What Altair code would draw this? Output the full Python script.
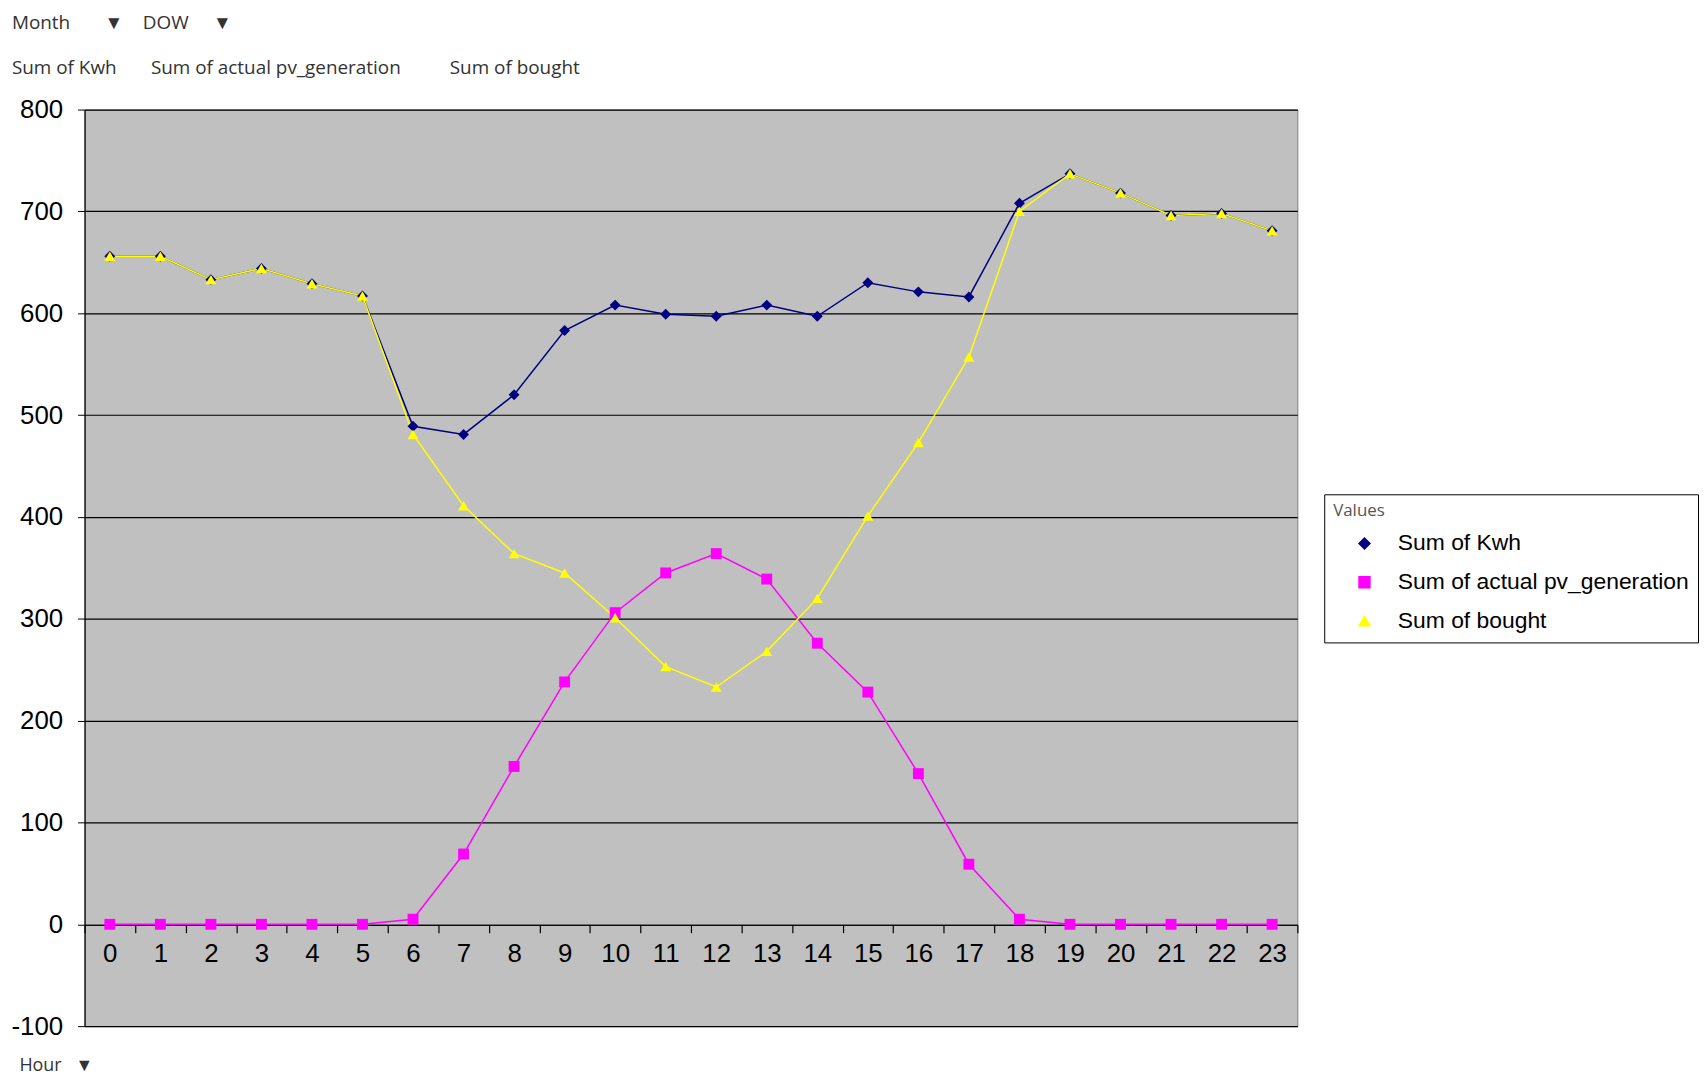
import altair as alt
import pandas as pd

hours = list(range(24))
kwh = [656, 656, 633, 644, 629, 617, 489, 481, 520, 583, 608, 599,
       597, 608, 597, 630, 621, 616, 708, 737, 718, 696, 698, 681]
pv = [0, 0, 0, 0, 0, 0, 5, 69, 155, 238, 306, 345,
      364, 339, 276, 228, 148, 59, 5, 0, 0, 0, 0, 0]
bought = [656, 656, 633, 644, 629, 617, 481, 411, 364, 345, 301, 253,
          233, 268, 320, 401, 473, 557, 700, 737, 718, 696, 698, 681]

series_names = ["Sum of Kwh", "Sum of actual pv_generation", "Sum of bought"]
series_colors = ["#000080", "#FF00FF", "#FFFF00"]
series_shapes = ["diamond", "square", "triangle-up"]
y_ticks = list(range(-100, 801, 100))

rows = []
for name, vals in zip(series_names, [kwh, pv, bought]):
    for h, v in zip(hours, vals):
        rows.append({"Hour": h, "Value": v, "Series": name})
df = pd.DataFrame(rows)

W, H = 1220, 922
ZERO_OFFSET = -round(H / 9)
NB = "\u00a0"

legend = alt.Legend(
    orient="none", legendX=1247, legendY=387, title="Values",
    titleFontSize=17, titleColor="#555555", titleFont="Open Sans", titleFontWeight="normal",
    labelFontSize=23, labelFont="Liberation Sans", labelColor="black", labelLimit=0,
    symbolSize=120, strokeColor="black", fillColor="white", padding=9,
    rowPadding=15, titlePadding=12, symbolOffset=20, labelOffset=22, symbolStrokeWidth=1.5,
)

color = alt.Color("Series:N", scale=alt.Scale(domain=series_names, range=series_colors),
                  sort=series_names, legend=legend)
shape = alt.Shape("Series:N", scale=alt.Scale(domain=series_names, range=series_shapes),
                  sort=series_names, legend=legend)

x = alt.X("Hour:O", sort=hours,
          scale=alt.Scale(type="band", paddingInner=0, paddingOuter=0),
          axis=alt.Axis(title="Hour" + NB * 3 + "▼", offset=ZERO_OFFSET, tickBand="extent",
                        labelAngle=0,
                        labelFontSize=26, labelFont="Liberation Sans", labelColor="black",
                        tickColor="black", tickSize=8, tickWidth=1.2,
                        domainColor="black", domainWidth=1.2, grid=False, labelPadding=8,
                        titleX=-66, titleY=142, titleAlign="left", titleBaseline="middle",
                        titleAngle=0, titleFontSize=18, titleFontWeight="normal",
                        titleFont="Open Sans", titleColor="#333333"))
y = alt.Y("Value:Q", scale=alt.Scale(domain=[-100, 800], nice=False, zero=False),
          axis=alt.Axis(values=y_ticks, title=None, grid=True, gridColor="black",
                        gridWidth=1.2, domainColor="black", domainWidth=1.2,
                        tickColor="black", tickSize=7, labelFontSize=26,
                        labelExpr="'' + datum.value",
                        labelFont="Liberation Sans", labelColor="black", labelPadding=15))

lines = alt.Chart(df).mark_line(strokeWidth=1.5).encode(x=x, y=y, color=color,
                                                         order=alt.Order("Hour:O"))
points = alt.Chart(df).mark_point(filled=True, size=120, opacity=1).encode(
    x=x, y=y, color=color, shape=shape)

title_text = "Month" + NB * 7 + "▼" + NB * 4 + "DOW" + NB * 5 + "▼"
subtitle_text = ("Sum of Kwh" + NB * 7 + "Sum of actual pv_generation" + NB * 10 + "Sum of bought")

chart = alt.layer(lines, points).properties(
    width=W, height=H, padding={"left": 2, "top": 3, "right": 0, "bottom": 0},
    title=alt.TitleParams(
        text=title_text,
        subtitle=subtitle_text,
        anchor="start", frame="bounds", fontSize=19, subtitleFontSize=19,
        font="Open Sans", subtitleFont="Open Sans", fontWeight="normal",
        color="#333333", subtitleColor="#333333", subtitlePadding=26, offset=19, dx=1),
).configure_view(fill="#C0C0C0", stroke="#808080", strokeWidth=1)

chart.save("out.html", embed_options={"renderer": "svg", "actions": False})
